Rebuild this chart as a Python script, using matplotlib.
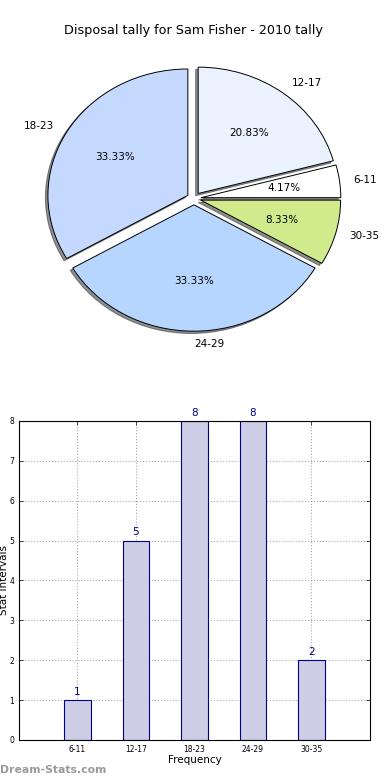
import matplotlib
matplotlib.use("Agg")
import matplotlib.pyplot as plt
import numpy as np

# data
intervals = ["6-11", "12-17", "18-23", "24-29", "30-35"]
counts = [1, 5, 8, 8, 2]
slice_colors = ["#FFFFFF", "#EAF1FF", "#C5D9FF", "#B7D6FF", "#CFEB8B"]
explode = [0.05, 0.05, 0.05, 0.05, 0.05]

fig = plt.figure(figsize=(3.9, 7.8), dpi=100)

# pie on top
ax1 = fig.add_axes([0.0487, 0.543, 0.897, 0.405])
wedges, texts, autotexts = ax1.pie(counts, labels=intervals, colors=slice_colors,
                                   explode=explode, autopct="%1.2f%%",
                                   shadow={"ox": -0.013, "oy": -0.013, "shade": 0.85},
                                   startangle=0, labeldistance=1.1, pctdistance=0.6,
                                   wedgeprops=dict(edgecolor="black", linewidth=0.7),
                                   textprops=dict(fontsize=7.5))
ax1.set_aspect("auto")
ax1.set_xlim(-1.25, 1.25)
ax1.set_ylim(-1.25, 1.25)
ax1.set_title("Disposal tally for Sam Fisher - 2010 tally", fontsize=9.2, pad=5)

# bar chart below
ax2 = fig.add_axes([0.0487, 0.0513, 0.9, 0.409])
x = np.arange(len(intervals))
bars = ax2.bar(x, counts, width=0.45, color="#CDCDE6", edgecolor="#000080", linewidth=0.8, zorder=2)
for xi, c in zip(x, counts):
    ax2.text(xi, c + 0.08, str(c), ha="center", va="bottom", color="#000080", fontsize=7.5)
ax2.set_xlim(-1, 5)
ax2.set_ylim(0, 8)
ax2.set_xticks(x)
ax2.set_xticklabels(intervals)
ax2.set_yticks(range(0, 9))
ax2.tick_params(labelsize=5.5, direction="in", top=True, right=True, length=3, width=0.5)
ax2.grid(True, linestyle=":", color="#AAAAAA", linewidth=0.8, zorder=1)
ax2.set_axisbelow(True)
ax2.set_xlabel("Frequency", fontsize=7.5, labelpad=1)
ax2.set_ylabel("Stat Intervals", fontsize=7.5, labelpad=0)
for s in ax2.spines.values():
    s.set_linewidth(0.8)

fig.text(0.0, 0.0128, "Dream-Stats.com", color="#9A9A9A", fontsize=7.8, fontweight="bold",
         ha="left", va="center")

fig.savefig("out.png", dpi=100)
